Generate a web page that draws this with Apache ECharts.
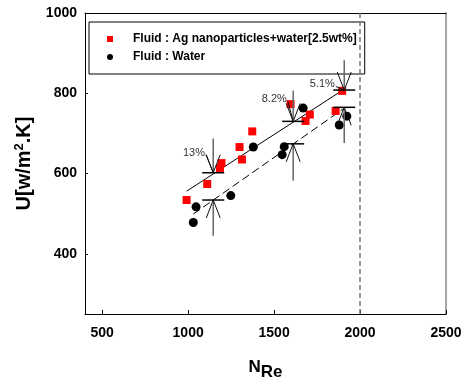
<!DOCTYPE html>
<html><head><meta charset="utf-8">
<script src="https://cdn.jsdelivr.net/npm/echarts@6/dist/echarts.min.js"></script>
<style>html,body{margin:0;padding:0;background:#fff}#c{width:465px;height:387px}</style>
</head><body><div id="c"></div>
<script>
// Ag nanofluid (2.5 wt%) data
const agRe = [991, 1111, 1194, 1185, 1299, 1313, 1373, 1596, 1683, 1708, 1858, 1896];
const agU  = [534, 574, 626, 614, 666, 635, 705, 773, 731, 747, 756, 806];
// Water data
const waterRe = [1046, 1030, 1248, 1379, 1547, 1559, 1669, 1879, 1923];
const waterU  = [517, 478, 545, 666, 647, 667, 763, 721, 743];
// Fit lines (end points)
const agFitRe = [991, 1907];
const agFitU  = [556, 810];
const waterFitRe = [1030, 1912];
const waterFitU  = [499, 764];
// Enhancement annotations
const annRe      = [1146, 1611, 1908];
const annUpTip   = [602, 730, 808];
const annUpTail  = [687, 807, 882];
const annLoTip   = [534, 674, 765];
const annLoTail  = [445, 582, 676];
const annText    = ['13%', '8.2%', '5.1%'];
const annTextRe  = [1098, 1574, 1853];
const annTextU   = [652, 785, 822];
// Axis ticks
const xTicks = [500, 1000, 1500, 2000, 2500];
const yTicks = [400, 600, 800, 1000];
const laminarLimit = 2000;

const FONT = '"Liberation Sans", Arial, sans-serif';
const chart = echarts.init(document.getElementById('c'));

const zip = (a, b) => a.map((v, i) => [v, b[i]]);
const plain = v => String(v);

chart.setOption({
  animation: false,
  backgroundColor: '#fff',
  grid: { left: 85, right: 19, top: 13, bottom: 73, containLabel: false, outerBoundsMode: 'none' },
  legend: {
    orient: 'vertical', left: 89, top: 22,
    borderColor: '#000', borderWidth: 1,
    padding: [10, 8, 10, 18],
    itemWidth: 6, itemHeight: 6, itemGap: 4,
    textStyle: { fontFamily: FONT, fontSize: 12, fontWeight: 'bold', color: '#000', lineHeight: 14, padding: [0, 0, 0, 15] },
    data: ['Fluid : Ag nanoparticles+water[2.5wt%]', 'Fluid : Water']
  },
  xAxis: [{
    type: 'value', min: 400, max: 2500, position: 'bottom',
    axisLine: { lineStyle: { color: '#000', width: 1 } },
    axisTick: { inside: true, length: 4, customValues: xTicks, lineStyle: { color: '#000' } },
    axisLabel: { customValues: xTicks, formatter: plain, fontFamily: FONT, fontSize: 14, fontWeight: 'bold', color: '#000', margin: 12 },
    splitLine: { show: false },
    name: '{n|N}{s|Re}', nameLocation: 'middle', nameGap: 45,
    nameTextStyle: {
      rich: {
        n: { fontFamily: FONT, fontSize: 17, fontWeight: 'bold', color: '#000', lineHeight: 17, verticalAlign: 'top' },
        s: { fontFamily: FONT, fontSize: 17, fontWeight: 'bold', color: '#000', lineHeight: 17, verticalAlign: 'top', padding: [5, 0, 0, 0] }
      }
    }
  }, {
    type: 'value', min: 400, max: 2500, position: 'top',
    axisLine: { show: true, lineStyle: { color: '#000', width: 1 } },
    axisTick: { show: false }, axisLabel: { show: false }, splitLine: { show: false }
  }],
  yAxis: [{
    type: 'value', min: 250, max: 1000, position: 'left',
    axisLine: { show: true, lineStyle: { color: '#000', width: 1 } },
    axisTick: { show: true, inside: true, length: 3, customValues: yTicks, lineStyle: { color: '#000' } },
    axisLabel: { customValues: yTicks, formatter: plain, fontFamily: FONT, fontSize: 14, fontWeight: 'bold', color: '#000', margin: 8 },
    splitLine: { show: false },
    name: '{b|U[w/m}{sup|2}{b|.K]}', nameLocation: 'middle', nameGap: 42, nameRotate: 90,
    nameTextStyle: {
      rich: {
        b: { fontFamily: FONT, fontSize: 20, fontWeight: 'bold', color: '#000', lineHeight: 22, verticalAlign: 'bottom' },
        sup: { fontFamily: FONT, fontSize: 13, fontWeight: 'bold', color: '#000', lineHeight: 22, verticalAlign: 'top' }
      }
    }
  }, {
    type: 'value', min: 250, max: 1000, position: 'right',
    axisLine: { show: true, lineStyle: { color: '#888', width: 1.5 } },
    axisTick: { show: false }, axisLabel: { show: false }, splitLine: { show: false }
  }],
  series: [
    {
      name: 'agFit', type: 'line', data: zip(agFitRe, agFitU), showSymbol: false, silent: true,
      lineStyle: { color: '#000', width: 1 }, z: 2
    },
    {
      name: 'waterFit', type: 'line', data: zip(waterFitRe, waterFitU), showSymbol: false, silent: true,
      lineStyle: { color: '#000', width: 1, type: [8, 4] }, z: 2
    },
    {
      name: 'Fluid : Ag nanoparticles+water[2.5wt%]', type: 'scatter', symbol: 'rect', symbolSize: 8,
      data: zip(agRe, agU), itemStyle: { color: '#ff0000', opacity: 1 }, z: 4
    },
    {
      name: 'Fluid : Water', type: 'scatter', symbol: 'circle', symbolSize: 9,
      data: zip(waterRe, waterU), itemStyle: { color: '#000', opacity: 1 }, z: 4,
      markLine: {
        silent: true, symbol: 'none', label: { show: false },
        lineStyle: { color: '#777', width: 1.5, type: [5, 3] },
        data: [{ xAxis: laminarLimit }]
      }
    },
    {
      name: 'annotations', type: 'custom', silent: true, z: 5,
      data: annRe.map((x, i) => [x, annUpTip[i], annUpTail[i], annLoTip[i], annLoTail[i], annTextRe[i], annTextU[i]]),
      renderItem: function (params, api) {
        const i = params.dataIndex;
        const x = api.value(0);
        const t1 = api.coord([x, api.value(1)]);
        const a1 = api.coord([x, api.value(2)]);
        const t2 = api.coord([x, api.value(3)]);
        const a2 = api.coord([x, api.value(4)]);
        const lb = api.coord([api.value(5), api.value(6)]);
        const hw = 7, hl = 18, bw = 11;
        const dark = { stroke: '#111', lineWidth: 1 };
        const grey = { stroke: '#666', lineWidth: 1.5 };
        const ln = (p, q, st) => ({ type: 'line', shape: { x1: p[0], y1: p[1], x2: q[0], y2: q[1] }, style: st });
        return {
          type: 'group',
          children: [
            ln(a1, t1, grey),
            ln([t1[0] - hw, t1[1] - hl], t1, dark),
            ln([t1[0] + hw, t1[1] - hl], t1, dark),
            ln([t1[0] - bw, t1[1]], [t1[0] + bw, t1[1]], { stroke: '#000', lineWidth: 1.5 }),
            ln(a2, t2, grey),
            ln([t2[0] - hw, t2[1] + hl], t2, dark),
            ln([t2[0] + hw, t2[1] + hl], t2, dark),
            ln([t2[0] - bw, t2[1]], [t2[0] + bw, t2[1]], { stroke: '#000', lineWidth: 1.5 }),
            ln([lb[0] + 1, lb[1] + 2], t1, dark),
            {
              type: 'text', x: lb[0], y: lb[1],
              style: { text: annText[i], fontFamily: FONT, fontSize: 11, fill: '#333', align: 'right', verticalAlign: 'middle' }
            }
          ]
        };
      }
    }
  ]
});
</script>
</body></html>
